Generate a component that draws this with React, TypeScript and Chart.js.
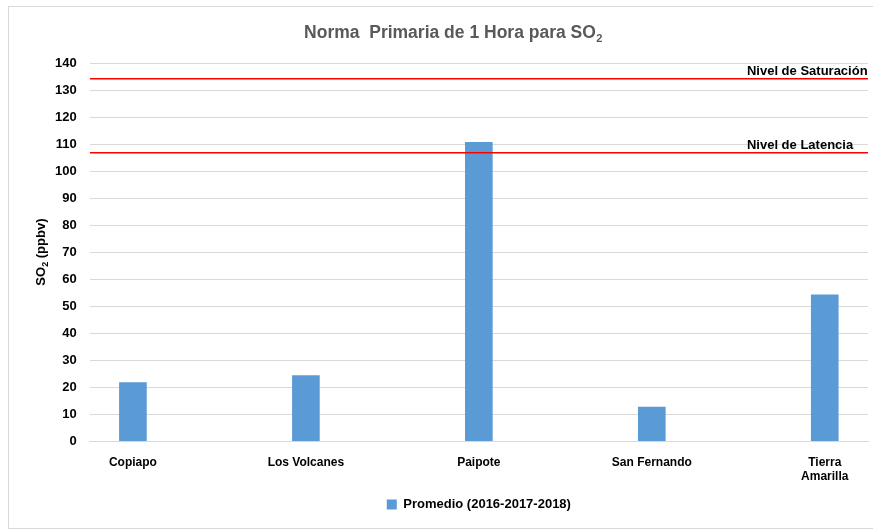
import React, { useEffect, useRef } from "react";
import { Chart, registerables } from "chart.js";

Chart.register(...registerables);

const categories: (string | string[])[] = ["Copiapo", "Los Volcanes", "Paipote", "San Fernando", ["Tierra", "Amarilla"]];
const promedio = [21.7, 24.3, 110.6, 12.6, 54.2];
const seriesName = "Promedio (2016-2017-2018)";
const thresholdNames = ["Nivel de Saturación", "Nivel de Latencia"];
const thresholdValues = [134.2, 106.8];
const thresholdLabelX = 3.55;
const yMin = 0;
const yMax = 140;
const yStep = 10;
const titleMain = "Norma  Primaria de 1 Hora para SO";
const titleSub = "2";
const yTitleMain = "SO";
const yTitleSub = "2";
const yTitleRest = " (ppbv)";

const FONT = "'Liberation Sans', Arial, sans-serif";

const thresholdLabels = {
  id: "thresholdLabels",
  afterDatasetsDraw(chart: any) {
    const { ctx, scales } = chart;
    ctx.save();
    ctx.font = `bold 13px ${FONT}`;
    ctx.fillStyle = "#000";
    ctx.textAlign = "left";
    ctx.textBaseline = "alphabetic";
    thresholdNames.forEach((name, i) => {
      const x = scales.x.getPixelForValue(thresholdLabelX);
      const y = scales.y.getPixelForValue(thresholdValues[i]);
      ctx.fillText(name, x, y - 4);
    });
    ctx.restore();
  },
};

const titles = {
  id: "titlesWithSub",
  afterDraw(chart: any) {
    const { ctx, chartArea } = chart;
    ctx.save();
    const mainFont = `bold 17.5px ${FONT}`;
    const subFont = `bold 11px ${FONT}`;
    ctx.font = mainFont;
    const w1 = ctx.measureText(titleMain).width;
    ctx.font = subFont;
    const w2 = ctx.measureText(titleSub).width;
    const cx = chart.width / 2 + 12;
    const x0 = cx - (w1 + w2) / 2;
    const by = 31;
    ctx.fillStyle = "#595959";
    ctx.textBaseline = "alphabetic";
    ctx.textAlign = "left";
    ctx.font = mainFont;
    ctx.fillText(titleMain, x0, by);
    ctx.font = subFont;
    ctx.fillText(titleSub, x0 + w1 + 0.5, by + 4);

    const yMainFont = `bold 13px ${FONT}`;
    const ySubFont = `bold 9px ${FONT}`;
    ctx.font = yMainFont;
    const a = ctx.measureText(yTitleMain).width;
    const c = ctx.measureText(yTitleRest).width;
    ctx.font = ySubFont;
    const b = ctx.measureText(yTitleSub).width;
    const total = a + b + c;
    const cy = (chartArea.top + chartArea.bottom) / 2;
    ctx.translate(36, cy);
    ctx.rotate(-Math.PI / 2);
    ctx.fillStyle = "#000";
    let x = -total / 2;
    ctx.font = yMainFont;
    ctx.fillText(yTitleMain, x, 0);
    x += a;
    ctx.font = ySubFont;
    ctx.fillText(yTitleSub, x, 3);
    x += b;
    ctx.font = yMainFont;
    ctx.fillText(yTitleRest, x, 0);
    ctx.restore();
  },
};

export default function App() {
  const ref = useRef<HTMLCanvasElement | null>(null);
  useEffect(() => {
    if (!ref.current) return;
    const datasets: any[] = [
      {
        type: "bar",
        label: seriesName,
        data: promedio.map((v, i) => ({ x: i, y: v })),
        backgroundColor: "#5b9bd5",
        borderWidth: 0,
        barThickness: 27,
        order: 1,
      },
      ...thresholdNames.map((name, i) => ({
        type: "line",
        label: name,
        data: [
          { x: -0.25, y: thresholdValues[i] },
          { x: categories.length - 0.75, y: thresholdValues[i] },
        ],
        borderColor: "#ff0000",
        borderWidth: 1.5,
        pointRadius: 0,
        fill: false,
        order: 0,
      })),
    ];
    const chart = new Chart(ref.current, {
      type: "bar",
      data: { datasets },
      options: {
        animation: false,
        responsive: false,
        layout: { padding: { left: 33, right: 5, top: 56, bottom: 7 } },
        plugins: {
          title: { display: false },
          legend: {
            position: "bottom",
            fullSize: false,
            labels: {
              filter: (item: any) => item.datasetIndex === 0,
              boxWidth: 10,
              boxHeight: 10,
              color: "#000",
              font: { family: FONT, size: 13, weight: "bold" },
              padding: 0,
            },
          },
          tooltip: { enabled: false },
        },
        scales: {
          x: {
            type: "linear",
            offset: false,
            min: -0.25,
            max: categories.length - 0.75,
            afterBuildTicks: (scale: any) => {
              scale.ticks = categories.map((_, i) => ({ value: i }));
            },
            ticks: {
              callback: (v: any) => categories[v as number],
              color: "#000",
              font: { family: FONT, size: 12, weight: "bold", lineHeight: 1.2 },
              padding: 14,
              maxRotation: 0,
              autoSkip: false,
            },
            grid: { display: false, drawTicks: false, offset: false },
            border: { display: true, color: "#d9d9d9", width: 1 },
          },
          y: {
            min: yMin,
            max: yMax,
            ticks: {
              stepSize: yStep,
              color: "#000",
              font: { family: FONT, size: 13, weight: "bold" },
              padding: 13,
            },
            grid: { color: "#d9d9d9", drawTicks: false },
            border: { display: false },
          },
        },
      },
      plugins: [thresholdLabels, titles],
    } as any);
    return () => chart.destroy();
  }, []);
  return (
    <div
      style={{
        position: "absolute",
        left: 8,
        top: 6,
        width: 864,
        height: 521,
        border: "1px solid #d9d9d9",
        background: "#fff",
      }}
    >
      <canvas ref={ref} width={864} height={521} style={{ display: "block" }} />
    </div>
  );
}
